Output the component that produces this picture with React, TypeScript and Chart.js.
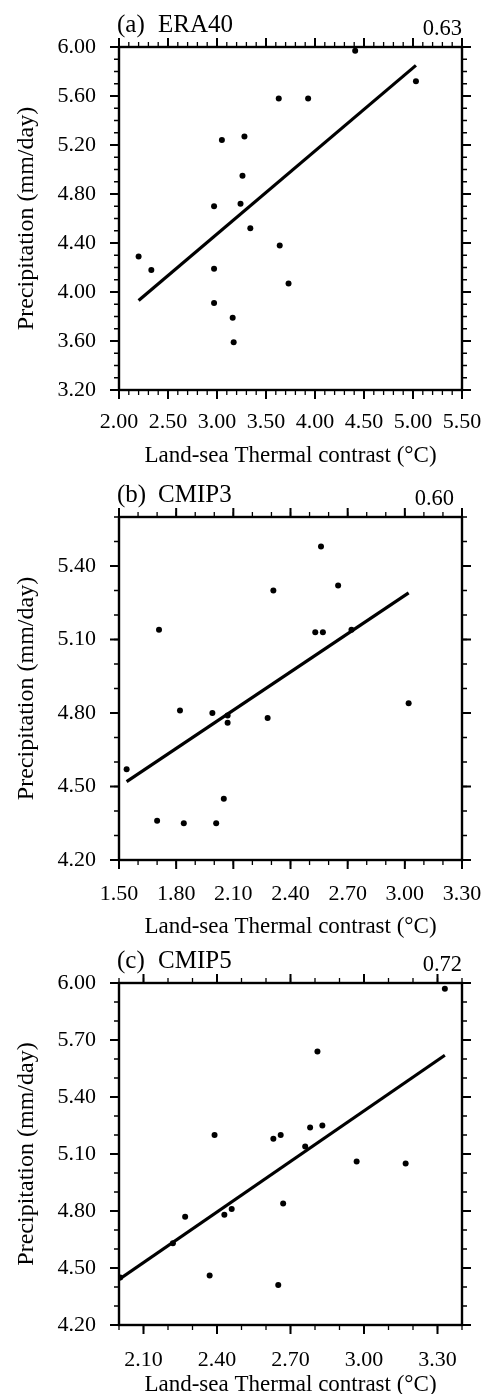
import React, { useEffect, useRef } from "react";
import { Chart, registerables } from "chart.js";

Chart.register(...registerables);

const FONT = '"Liberation Serif", "Times New Roman", serif';

// ---- (a) ERA40 ----
const eraX = [4.41, 5.03, 3.63, 3.93, 3.05, 3.28, 3.26, 2.97, 3.24, 3.34, 3.64, 2.20, 2.33, 2.97, 3.73, 2.97, 3.16, 3.17];
const eraY = [5.97, 5.72, 5.58, 5.58, 5.24, 5.27, 4.95, 4.70, 4.72, 4.52, 4.38, 4.29, 4.18, 4.19, 4.07, 3.91, 3.79, 3.59];
const eraFitX = [2.20, 5.03];
const eraFitY = [3.93, 5.85];
const eraXTicks = [2.0, 2.5, 3.0, 3.5, 4.0, 4.5, 5.0, 5.5];
const eraYTicks = [3.2, 3.6, 4.0, 4.4, 4.8, 5.2, 5.6, 6.0];

// ---- (b) CMIP3 ----
const c3X = [2.56, 2.31, 2.65, 1.71, 2.53, 2.57, 2.72, 3.02, 1.82, 1.99, 2.07, 2.07, 2.28, 1.54, 2.05, 1.70, 1.84, 2.01];
const c3Y = [5.48, 5.30, 5.32, 5.14, 5.13, 5.13, 5.14, 4.84, 4.81, 4.80, 4.79, 4.76, 4.78, 4.57, 4.45, 4.36, 4.35, 4.35];
const c3FitX = [1.54, 3.02];
const c3FitY = [4.52, 5.29];
const c3XTicks = [1.5, 1.8, 2.1, 2.4, 2.7, 3.0, 3.3];
const c3YTicks = [4.2, 4.5, 4.8, 5.1, 5.4];

// ---- (c) CMIP5 ----
const c5X = [3.33, 2.81, 2.78, 2.83, 2.39, 2.63, 2.66, 2.76, 2.97, 3.17, 2.67, 2.27, 2.43, 2.46, 2.22, 2.005, 2.37, 2.65];
const c5Y = [5.97, 5.64, 5.24, 5.25, 5.20, 5.18, 5.20, 5.14, 5.06, 5.05, 4.84, 4.77, 4.78, 4.81, 4.63, 4.45, 4.46, 4.41];
const c5FitX = [2.0, 3.33];
const c5FitY = [4.44, 5.62];
const c5XTicks = [2.1, 2.4, 2.7, 3.0, 3.3];
const c5YTicks = [4.2, 4.5, 4.8, 5.1, 5.4, 5.7, 6.0];

const X_TITLE = "Land-sea Thermal contrast (°C)";
const Y_TITLE = "Precipitation (mm/day)";

type PanelDef = {
  tag: string;
  name: string;
  rValue: string;
  rShift: number;
  xs: number[];
  ys: number[];
  fitX: number[];
  fitY: number[];
  xTicks: number[];
  yTicks: number[];
  xMin: number;
  xMax: number;
  yMin: number;
  yMax: number;
  top: number;
  height: number;
  areaTop: number;
  areaBottom: number;
  xPad: number;
  xTitleOff: number;
};

const panels: PanelDef[] = [
  {
    tag: "(a)", name: "ERA40", rValue: "0.63", rShift: 0, xs: eraX, ys: eraY, fitX: eraFitX, fitY: eraFitY,
    xTicks: eraXTicks, yTicks: eraYTicks, xMin: 2.0, xMax: 5.5, yMin: 3.2, yMax: 6.0,
    top: 0, height: 472, areaTop: 47, areaBottom: 390, xPad: 19, xTitleOff: 72,
  },
  {
    tag: "(b)", name: "CMIP3", rValue: "0.60", rShift: -8, xs: c3X, ys: c3Y, fitX: c3FitX, fitY: c3FitY,
    xTicks: c3XTicks, yTicks: c3YTicks, xMin: 1.5, xMax: 3.3, yMin: 4.2, yMax: 5.6,
    top: 470, height: 472, areaTop: 47, areaBottom: 390, xPad: 21, xTitleOff: 73,
  },
  {
    tag: "(c)", name: "CMIP5", rValue: "0.72", rShift: 0, xs: c5X, ys: c5Y, fitX: c5FitX, fitY: c5FitY,
    xTicks: c5XTicks, yTicks: c5YTicks, xMin: 2.0, xMax: 3.4, yMin: 4.2, yMax: 6.0,
    top: 935, height: 459, areaTop: 48, areaBottom: 390, xPad: 22, xTitleOff: 66,
  },
];

const AREA_LEFT = 119;
const AREA_RIGHT = 462;
const WIDTH = 485;
const MINOR = 0.1;

const framePlugin = {
  id: "frame",
  afterDraw(chart: any, _args: any, opts: any) {
    const { ctx, chartArea } = chart;
    const { left, right, top, bottom } = chartArea;
    const xs = chart.scales.x;
    const ys = chart.scales.y;
    const p: PanelDef = opts.panel;
    ctx.save();
    ctx.strokeStyle = "#000";
    ctx.lineCap = "butt";

    const drawX = (v: number, len: number) => {
      const px = xs.getPixelForValue(v);
      ctx.beginPath();
      ctx.moveTo(px, bottom);
      ctx.lineTo(px, bottom + len);
      ctx.moveTo(px, top);
      ctx.lineTo(px, top - len);
      ctx.stroke();
    };
    const drawY = (v: number, len: number) => {
      const py = ys.getPixelForValue(v);
      ctx.beginPath();
      ctx.moveTo(left, py);
      ctx.lineTo(left - len, py);
      ctx.moveTo(right, py);
      ctx.lineTo(right + len, py);
      ctx.stroke();
    };

    // minor ticks
    ctx.lineWidth = 1.3;
    const nx = Math.round((p.xMax - p.xMin) / MINOR);
    for (let i = 0; i <= nx; i++) drawX(p.xMin + i * MINOR, 5);
    const ny = Math.round((p.yMax - p.yMin) / MINOR);
    for (let i = 0; i <= ny; i++) drawY(p.yMin + i * MINOR, 5);

    // major ticks
    ctx.lineWidth = 2;
    p.xTicks.forEach((v) => drawX(v, 9));
    p.yTicks.forEach((v) => drawY(v, 9));

    // frame
    ctx.lineWidth = 2.4;
    ctx.strokeRect(left, top, right - left, bottom - top);

    // texts
    ctx.fillStyle = "#000";
    ctx.textBaseline = "alphabetic";
    ctx.font = `25px ${FONT}`;
    ctx.textAlign = "left";
    ctx.fillText(p.tag, left - 2, top - 15);
    ctx.fillText(p.name, left + 39, top - 15);

    ctx.font = `22.5px ${FONT}`;
    ctx.textAlign = "right";
    ctx.fillText(p.rValue, right + p.rShift, top - 12);

    ctx.font = `23px ${FONT}`;
    ctx.textAlign = "center";
    ctx.fillText(X_TITLE, (left + right) / 2, bottom + p.xTitleOff);

    ctx.font = `24px ${FONT}`;
    ctx.translate(33, (top + bottom) / 2);
    ctx.rotate(-Math.PI / 2);
    ctx.textAlign = "center";
    ctx.fillText(Y_TITLE, 0, 0);
    ctx.restore();
  },
};

function Panel({ p }: { p: PanelDef }) {
  const ref = useRef<HTMLCanvasElement | null>(null);
  useEffect(() => {
    if (!ref.current) return;
    const points = p.xs.map((x, i) => ({ x, y: p.ys[i] }));
    const fit = p.fitX.map((x, i) => ({ x, y: p.fitY[i] }));
    const chart = new Chart(ref.current, {
      type: "scatter",
      data: {
        datasets: [
          {
            data: fit,
            showLine: true,
            borderColor: "#000",
            borderWidth: 3.2,
            pointRadius: 0,
            fill: false,
          } as any,
          {
            data: points,
            pointRadius: 3,
            pointBackgroundColor: "#000",
            pointBorderWidth: 0,
            backgroundColor: "#000",
          } as any,
        ],
      },
      options: {
        animation: false,
        responsive: false,
        devicePixelRatio: 1,
        layout: { padding: { top: p.areaTop, left: 0, right: WIDTH - AREA_RIGHT, bottom: 0 } },
        plugins: {
          legend: { display: false },
          title: { display: false },
          tooltip: { enabled: false },
          frame: { panel: p },
        } as any,
        scales: {
          x: {
            type: "linear",
            min: p.xMin,
            max: p.xMax,
            bounds: "data",
            grid: { display: false, drawTicks: false },
            border: { display: false },
            afterBuildTicks: (s: any) => {
              s.ticks = p.xTicks.map((v) => ({ value: v }));
            },
            afterFit: (s: any) => {
              s.height = p.height - p.areaBottom;
              s.paddingLeft = 0;
              s.paddingRight = 0;
            },
            ticks: {
              color: "#000",
              font: { family: FONT, size: 22 },
              padding: p.xPad,
              maxRotation: 0,
              autoSkip: false,
              callback: (v: any) => Number(v).toFixed(2),
            },
          },
          y: {
            type: "linear",
            min: p.yMin,
            max: p.yMax,
            bounds: "data",
            grid: { display: false, drawTicks: false },
            border: { display: false },
            afterBuildTicks: (s: any) => {
              s.ticks = p.yTicks.map((v) => ({ value: v }));
            },
            afterFit: (s: any) => {
              s.width = AREA_LEFT;
              s.paddingTop = 0;
              s.paddingBottom = 0;
            },
            ticks: {
              color: "#000",
              font: { family: FONT, size: 22 },
              padding: 23,
              autoSkip: false,
              callback: (v: any) => Number(v).toFixed(2),
            },
          },
        },
      } as any,
      plugins: [framePlugin as any],
    });
    return () => chart.destroy();
  }, [p]);

  return (
    <div style={{ position: "absolute", left: 0, top: p.top, width: WIDTH, height: p.height }}>
      <canvas ref={ref} width={WIDTH} height={p.height} style={{ width: WIDTH, height: p.height, display: "block" }} />
    </div>
  );
}

export default function App() {
  return (
    <div style={{ position: "absolute", left: 0, top: 0, width: WIDTH, height: 1394, background: "#fff", overflow: "hidden" }}>
      {panels.map((p) => (
        <Panel key={p.tag} p={p} />
      ))}
    </div>
  );
}
